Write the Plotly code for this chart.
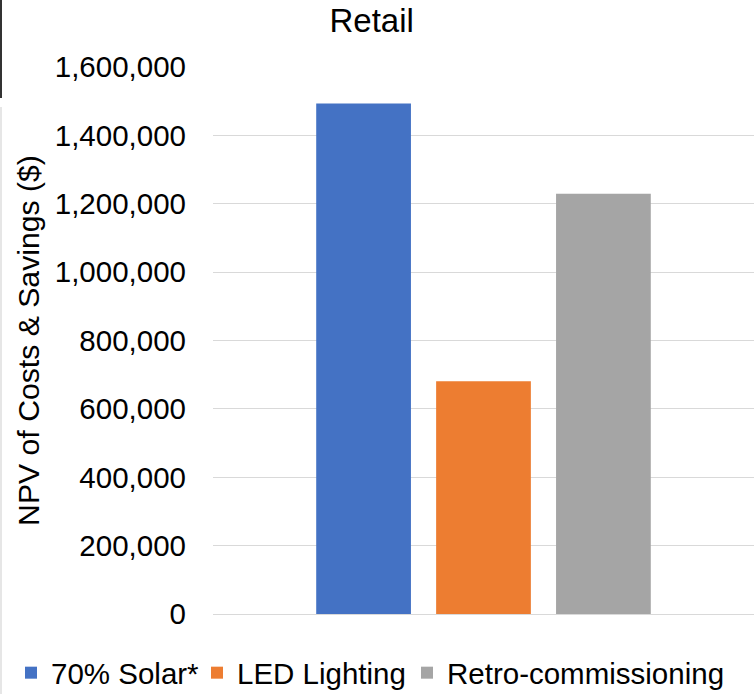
import plotly.graph_objects as go

# Net present value of each retail building measure
category = ["Retail"]
measures = ["70% Solar*", "LED Lighting", "Retro-commissioning"]
npv_values = [1493000, 681000, 1229000]
colors = ["#4472C4", "#ED7D31", "#A5A5A5"]
y_ticks = [0, 200000, 400000, 600000, 800000, 1000000, 1200000, 1400000, 1600000]

W, H = 755, 694
M_L, M_R, M_T, M_B = 213, 1, 67, 80
plot_w = W - M_L - M_R
plot_h = H - M_T - M_B

FONT = "Liberation Sans, Arial, sans-serif"

# one legend box per measure, laid out in a row under the plot
legend_ids = ["legend", "legend2", "legend3"]
legend_left_px = [11, 197, 407]

fig = go.Figure()
for name, val, col, lg in zip(measures, npv_values, colors, legend_ids):
    fig.add_trace(go.Bar(
        x=category, y=[val], name=name, legend=lg,
        marker=dict(color=col, line=dict(width=0)),
    ))

legend_style = dict(orientation="h", xref="container", xanchor="left",
                    yref="container", yanchor="middle", y=(H - 673) / H,
                    font=dict(family=FONT, size=29.5, color="#000000"),
                    bgcolor="rgba(0,0,0,0)", itemclick=False, borderwidth=0)

fig.update_layout(
    width=W, height=H,
    margin=dict(l=M_L, r=M_R, t=M_T, b=M_B, pad=0, autoexpand=False),
    paper_bgcolor="white", plot_bgcolor="white",
    font=dict(family=FONT, size=29.5, color="#000000"),
    barmode="group", bargap=0.335, bargroupgap=0.21,
    title=dict(text="Retail", x=371.7 / W, xanchor="center", xref="container",
               y=1 - 9 / H, yanchor="top", yref="container",
               font=dict(family=FONT, size=33, color="#000000")),
    showlegend=True,
    legend=dict(x=legend_left_px[0] / W, **legend_style),
    legend2=dict(x=legend_left_px[1] / W, **legend_style),
    legend3=dict(x=legend_left_px[2] / W, **legend_style),
)

fig.update_xaxes(showticklabels=False, showgrid=False, zeroline=False,
                 showline=False, ticks="")
fig.update_yaxes(range=[0, 1600000], tickvals=y_ticks, tickformat=",d",
                 showgrid=True, gridcolor="#D9D9D9", gridwidth=1.3,
                 zeroline=True, zerolinecolor="#D9D9D9", zerolinewidth=1.3,
                 showline=False, ticks="", ticklabelstandoff=26,
                 tickfont=dict(family=FONT, size=29.5, color="#000000"),
                 title=dict(text="NPV of Costs & Savings ($)", standoff=6,
                            font=dict(family=FONT, size=30.2, color="#000000")))

# Frame edges along the left border of the image
fig.add_shape(type="line", xref="paper", yref="paper",
              x0=(1 - M_L) / plot_w, x1=(1 - M_L) / plot_w,
              y0=(H - M_B - 0) / plot_h, y1=(H - M_B - 98) / plot_h,
              line=dict(color="#333333", width=2))
fig.add_shape(type="line", xref="paper", yref="paper",
              x0=(1 - M_L) / plot_w, x1=(1 - M_L) / plot_w,
              y0=(H - M_B - 107) / plot_h, y1=(H - M_B - H) / plot_h,
              line=dict(color="#E6E6E6", width=2))

fig.write_html("out.html")
